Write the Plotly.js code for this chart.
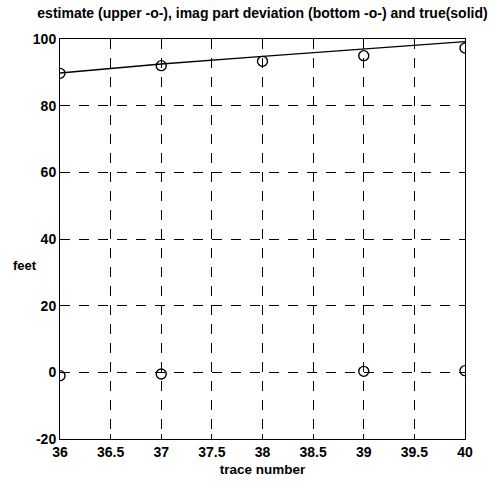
<!DOCTYPE html>
<html>
<head>
<meta charset="utf-8">
<script src="https://cdn.plot.ly/plotly-3.0.1.min.js"></script>
<style>
html,body{margin:0;padding:0;background:#fff;}
#chart{width:496px;height:481px;}
</style>
</head>
<body>
<div id="chart"></div>
<script>
const traceX = [36, 37, 38, 39, 40];
const trueFeet = [89.8, 92.5, 94.8, 96.9, 99.2];
const estimateFeet = [89.7, 92.0, 93.3, 95.0, 97.3];
const devX = [36, 37, 39, 40];
const imagDeviation = [-1.0, -0.5, 0.3, 0.5];
const xTicks = [36, 36.5, 37, 37.5, 38, 38.5, 39, 39.5, 40];
const yTicks = [-20, 0, 20, 40, 60, 80, 100];

const fontFam = '"Liberation Sans", Arial, sans-serif';

const data = [
  {x: traceX, y: trueFeet, mode: 'lines', line: {color: '#000', width: 1.3}, hoverinfo: 'skip'},
  {x: traceX, y: estimateFeet, mode: 'markers',
   marker: {symbol: 'circle-open', size: 10, color: '#000', line: {width: 1.4, color: '#000'}}},
  {x: devX, y: imagDeviation, mode: 'markers',
   marker: {symbol: 'circle-open', size: 10, color: '#000', line: {width: 1.4, color: '#000'}}}
];

const layout = {
  width: 496, height: 481,
  paper_bgcolor: '#fff', plot_bgcolor: '#fff',
  showlegend: false,
  margin: {l: 60, r: 31, t: 39, b: 42},
  font: {family: fontFam, color: '#000', size: 13},
  title: {text: '<b>estimate (upper -o-), imag part deviation (bottom -o-) and true(solid)</b>',
          font: {family: fontFam, size: 14, color: '#000'},
          xref: 'paper', x: 0.5, xanchor: 'center', y: 0.972, yanchor: 'middle'},
  xaxis: {
    range: [36, 40], tickvals: xTicks, ticktext: xTicks.map(String),
    showgrid: true, gridcolor: '#000', gridwidth: 1, griddash: '10px,9px',
    zeroline: false, showline: true, linecolor: '#000', linewidth: 1, mirror: 'ticks',
    ticks: 'inside', ticklen: 5, tickcolor: '#000',
    tickfont: {family: fontFam, size: 14, color: '#000', weight: 'bold'},
    title: {text: '<b>trace number</b>', font: {family: fontFam, size: 13.5, color: '#000'}, standoff: 5}
  },
  yaxis: {
    range: [-20, 100], tickvals: yTicks, ticktext: yTicks.map(String),
    showgrid: true, gridcolor: '#000', gridwidth: 1, griddash: '10px,9px',
    zeroline: false, showline: true, linecolor: '#000', linewidth: 1, mirror: 'ticks',
    ticks: 'inside', ticklen: 5, tickcolor: '#000',
    tickfont: {family: fontFam, size: 14, color: '#000', weight: 'bold'}
  },
  annotations: [
    {text: '<b>feet</b>', xref: 'paper', yref: 'paper', x: -0.086, y: 0.435, xanchor: 'center', yanchor: 'middle',
     showarrow: false, font: {family: fontFam, size: 13, color: '#000'}}
  ]
};

Plotly.newPlot('chart', data, layout, {staticPlot: true, displayModeBar: false});
</script>
</body>
</html>
